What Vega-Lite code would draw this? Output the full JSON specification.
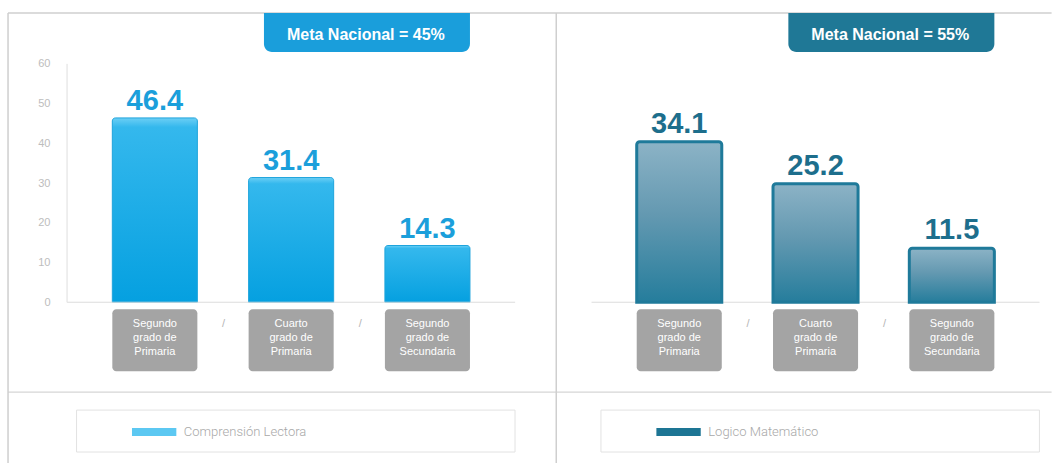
{
  "$schema": "https://vega.github.io/schema/vega-lite/v6.json",
  "width": 1053,
  "height": 464,
  "autosize": {"type": "fit", "contains": "padding"},
  "padding": 0,
  "background": "white",
  "config": {"view": {"stroke": null}, "axisX": {"disable": true}, "font": "Liberation Sans"},
  "datasets": {
    "scores": [
      {"area": "Comprensión Lectora", "grado": "Segundo grado de Primaria", "valor": 46.4},
      {"area": "Comprensión Lectora", "grado": "Cuarto grado de Primaria", "valor": 31.4},
      {"area": "Comprensión Lectora", "grado": "Segundo grado de Secundaria", "valor": 14.3},
      {"area": "Logico Matemático", "grado": "Segundo grado de Primaria", "valor": 34.1},
      {"area": "Logico Matemático", "grado": "Cuarto grado de Primaria", "valor": 25.2},
      {"area": "Logico Matemático", "grado": "Segundo grado de Secundaria", "valor": 11.5}
    ],
    "panels": [
      {"area": "Comprensión Lectora", "meta": "Meta Nacional = 45%"},
      {"area": "Logico Matemático", "meta": "Meta Nacional = 55%"}
    ]
  },
  "resolve": {"scale": {"y": "independent"}},
  "layer": [
    {
      "layer": [
        {
          "data": {"name": "scores"},
          "transform": [{"filter": "datum.area === 'Comprensión Lectora'"}],
          "mark": {"type": "bar", "stroke": "#1ea4dc", "strokeWidth": 1, "cornerRadiusTopLeft": 3, "cornerRadiusTopRight": 3,
            "fill": {"gradient": "linear", "x1": 0, "y1": 0, "x2": 0, "y2": 1,
              "stops": [{"offset": 0, "color": "#6ccff5"}, {"offset": 0.05, "color": "#34b8ed"}, {"offset": 1, "color": "#05a0e0"}]}},
          "encoding": {
            "x": {"field": "area", "type": "nominal",
              "scale": {"domain": ["Comprensión Lectora", "Logico Matemático"], "paddingInner": 0.318, "paddingOuter": 0.163, "align": 0.657}},
            "xOffset": {"field": "grado", "type": "nominal",
              "scale": {"domain": ["Segundo grado de Primaria", "Cuarto grado de Primaria", "Segundo grado de Secundaria"], "paddingInner": 0.376, "paddingOuter": 0}},
            "y": {"field": "valor", "type": "quantitative",
              "scale": {"domain": [-40.42, 76.07], "nice": false, "zero": false},
              "axis": {"values": [0, 10, 20, 30, 40, 50, 60], "domain": false, "ticks": false, "tickSize": 0, "grid": false,
                "offset": -67, "labelPadding": 17, "labelColor": "#bdbdbd", "labelFontSize": 11, "title": null}},
            "y2": {"datum": 0}
          }
        },
        {
          "data": {"name": "panels"},
          "transform": [{"filter": "datum.area === 'Comprensión Lectora'"}],
          "layer": [
            {"mark": {"type": "rule", "color": "#cfcfcf", "strokeWidth": 1.5},
              "encoding": {"x": {"datum": "Comprensión Lectora", "type": "nominal", "bandPosition": -0.2916}, "x2": {"datum": "Logico Matemático", "bandPosition": 1.16}, "y": {"datum": 72.8}}},
            {"mark": {"type": "rule", "color": "#d6d6d6", "strokeWidth": 1.2},
              "encoding": {"x": {"datum": "Comprensión Lectora", "type": "nominal", "bandPosition": -0.2916}, "x2": {"datum": "Logico Matemático", "bandPosition": 1.16}, "y": {"datum": -22.59}}},
            {"mark": {"type": "rule", "color": "#cfcfcf", "strokeWidth": 1.5},
              "encoding": {"x": {"datum": "Comprensión Lectora", "type": "nominal", "bandPosition": -0.2916}, "y": {"datum": 72.8}, "y2": {"datum": -40.42}}},
            {"mark": {"type": "rule", "color": "#cfcfcf", "strokeWidth": 1.5},
              "encoding": {"x": {"datum": "Comprensión Lectora", "type": "nominal", "bandPosition": 1.2413}, "y": {"datum": 72.8}, "y2": {"datum": -40.42}}},
            {"mark": {"type": "rule", "color": "#dedede", "strokeWidth": 1},
              "encoding": {"x": {"datum": "Comprensión Lectora", "type": "nominal", "bandPosition": -0.1266}, "y": {"datum": 60}, "y2": {"datum": 0}}}
          ]
        },
        {
          "data": {"name": "panels"},
          "layer": [
            {"mark": {"type": "tick", "size": 448, "thickness": 1, "color": "#dcdcdc", "orient": "horizontal", "opacity": 1},
              "encoding": {"x": {"field": "area", "type": "nominal"}, "y": {"datum": 0}}},
            {"mark": {"type": "rect", "cornerRadiusBottomLeft": 8, "cornerRadiusBottomRight": 8},
              "encoding": {"x": {"field": "area", "type": "nominal", "bandPosition": 0.424}, "x2": {"field": "area", "bandPosition": 1.0},
                "y": {"datum": 72.8}, "y2": {"datum": 63.01},
                "fill": {"field": "area", "type": "nominal", "scale": {"range": ["#1a9edb", "#1f7896"]}, "legend": null}}},
            {"mark": {"type": "text", "fontWeight": "bold", "fontSize": 16, "color": "white", "baseline": "alphabetic", "align": "center"},
              "encoding": {"x": {"field": "area", "type": "nominal", "bandPosition": 0.709}, "y": {"datum": 66.03}, "text": {"field": "meta"}}},
            {"mark": {"type": "rect", "fill": "white", "stroke": "#e2e2e2", "strokeWidth": 1},
              "encoding": {"x": {"field": "area", "type": "nominal", "bandPosition": -0.1}, "x2": {"field": "area", "bandPosition": 1.126},
                "y": {"datum": -27.11}, "y2": {"datum": -37.66}}},
            {"mark": {"type": "rect"},
              "encoding": {"x": {"field": "area", "type": "nominal", "bandPosition": 0.055}, "x2": {"field": "area", "bandPosition": 0.179},
                "y": {"datum": -31.63}, "y2": {"datum": -33.64},
                "color": {"field": "area", "type": "nominal", "scale": {"range": ["#5cc8f2", "#1d7594"]}, "legend": null}}},
            {"mark": {"type": "text", "align": "left", "baseline": "middle", "font": "Roboto", "fontWeight": 300, "fontSize": 13, "color": "#a8a8a8"},
              "encoding": {"x": {"field": "area", "type": "nominal", "bandPosition": 0.2}, "y": {"datum": -32.64}, "text": {"field": "area"}}},
            {"mark": {"type": "text", "text": "/", "fontSize": 11, "color": "#b5b5b5", "baseline": "middle"},
              "encoding": {"x": {"field": "area", "type": "nominal", "bandPosition": 0.311}, "y": {"datum": -5.52}}},
            {"mark": {"type": "text", "text": "/", "fontSize": 11, "color": "#b5b5b5", "baseline": "middle"},
              "encoding": {"x": {"field": "area", "type": "nominal", "bandPosition": 0.693}, "y": {"datum": -5.52}}}
          ]
        },
        {
          "data": {"name": "scores"},
          "transform": [{"calculate": "[split(datum.grado, ' ')[0], split(datum.grado, ' ')[1] + ' ' + split(datum.grado, ' ')[2], split(datum.grado, ' ')[3]]", "as": "lineas"}],
          "layer": [
            {"mark": {"type": "bar", "color": "#a4a4a4", "cornerRadius": 4},
              "encoding": {"x": {"field": "area", "type": "nominal"}, "xOffset": {"field": "grado", "type": "nominal"}, "y": {"datum": -1.757}, "y2": {"datum": -17.32}}},
            {"mark": {"type": "text", "color": "white", "fontSize": 11, "lineHeight": 14, "baseline": "middle", "align": "center"},
              "encoding": {"x": {"field": "area", "type": "nominal"}, "xOffset": {"field": "grado", "type": "nominal"}, "y": {"datum": -5.52}, "text": {"field": "lineas"}}}
          ]
        },
        {
          "data": {"name": "scores"},
          "transform": [{"filter": "datum.area === 'Comprensión Lectora'"}],
          "mark": {"type": "text", "fontWeight": "bold", "fontSize": 29, "color": "#1b9fdb", "baseline": "alphabetic", "dy": -8},
          "encoding": {"x": {"field": "area", "type": "nominal"}, "xOffset": {"field": "grado", "type": "nominal"}, "y": {"field": "valor", "type": "quantitative"}, "text": {"field": "valor", "type": "quantitative", "format": ".1f"}}
        }
      ]
    },
    {
      "data": {"name": "scores"},
      "transform": [{"filter": "datum.area === 'Logico Matemático'"}],
      "layer": [
        {
          "mark": {"type": "bar", "stroke": "#1f7a9a", "strokeWidth": 3, "cornerRadiusTopLeft": 3, "cornerRadiusTopRight": 3,
            "fill": {"gradient": "linear", "x1": 0, "y1": 0, "x2": 0, "y2": 1,
              "stops": [{"offset": 0, "color": "#8cb3c6"}, {"offset": 0.45, "color": "#6499b1"}, {"offset": 1, "color": "#257d9c"}]}},
          "encoding": {
            "x": {"field": "area", "type": "nominal"},
            "xOffset": {"field": "grado", "type": "nominal"},
            "y": {"field": "valor", "type": "quantitative", "scale": {"domain": [-34.11, 64.19], "nice": false, "zero": false}, "axis": null},
            "y2": {"datum": 0}
          }
        },
        {
          "mark": {"type": "text", "fontWeight": "bold", "fontSize": 29, "color": "#1d6e8c", "baseline": "alphabetic", "dy": -9},
          "encoding": {"x": {"field": "area", "type": "nominal"}, "xOffset": {"field": "grado", "type": "nominal"}, "y": {"field": "valor", "type": "quantitative"}, "text": {"field": "valor", "type": "quantitative", "format": ".1f"}}
        }
      ]
    }
  ]
}
